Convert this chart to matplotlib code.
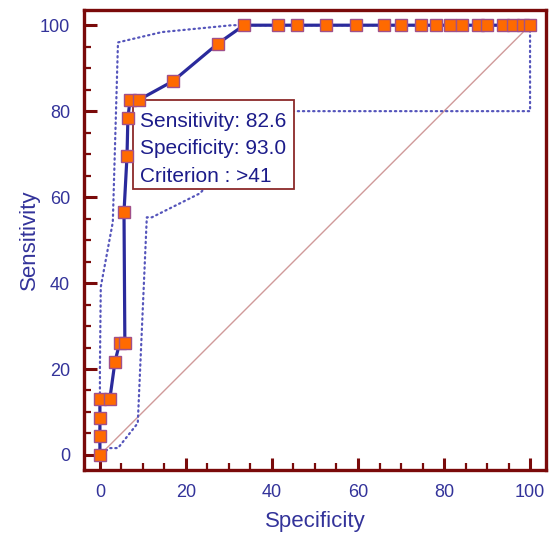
import matplotlib.pyplot as plt
from matplotlib.patches import Rectangle

plt.rcParams['font.family'] = ['Liberation Sans', 'DejaVu Sans']

# ROC curve (100 - specificity, sensitivity)
roc_x = [0, 0, 0, 0, 2.3, 3.5, 4.6, 5.8, 5.6, 6.3, 6.5, 7.0, 9.0, 17.0, 27.4, 33.5,
         41.5, 45.8, 52.6, 59.5, 66.0, 70.0, 74.7, 78.2, 81.3, 84.2, 87.9, 90.0,
         93.8, 96.0, 98.4, 100]
roc_y = [0, 4.3, 8.7, 13.0, 13.0, 21.7, 26.1, 26.1, 56.5, 69.6, 78.3, 82.6, 82.6,
         87.0, 95.7, 100, 100, 100, 100, 100, 100, 100, 100, 100, 100, 100, 100,
         100, 100, 100, 100, 100]

# confidence bounds
up_x = [0, 0, 0.2, 3.0, 4.2, 14.4, 30.7, 100]
up_y = [0, 20, 39.1, 54.2, 96.0, 98.4, 100, 100]
lo_x = [100, 100, 40, 23.3, 12.1, 10.9, 8.8, 4.2, 2.3, 0]
lo_y = [100, 80, 80, 60.9, 55.3, 55.3, 7.4, 1.6, 1.6, 0]

info = ['Sensitivity: 82.6', 'Specificity: 93.0', 'Criterion : >41']

spine_c = '#7a0a0a'
lab_c = '#33339a'

fig = plt.figure(figsize=(5.49, 5.35), dpi=100)
ax = fig.add_axes([0.153, 0.1215, 0.8415, 0.8595])

ax.plot([0, 100], [0, 100], color='#d09a9a', lw=1, zorder=1)
ax.plot(up_x, up_y, color='#5555bb', lw=1.6, ls=(0, (0.6, 1.7)),
        dash_capstyle='round', zorder=2)
ax.plot(lo_x, lo_y, color='#5555bb', lw=1.6, ls=(0, (0.6, 1.7)),
        dash_capstyle='round', zorder=2)

# info box
ax.add_patch(Rectangle((7.7, 61.9), 37.4, 20.7, facecolor='white',
                       edgecolor='#8b2a2a', lw=1.3, zorder=3))
for i, s in enumerate(info):
    ax.text(9.3, 77.7 - i * 6.4, s, color='#1c1c8a', fontsize=15,
            va='center', ha='left', zorder=4)

ax.plot(roc_x, roc_y, color='#2a2a9c', lw=2.3, marker='s', ms=9.2,
        mfc='#ff6a00', mec='#a0508a', mew=1, zorder=5)

ax.set_xlim(-3.7, 103.7)
ax.set_ylim(-3.5, 103.5)
ax.set_xticks(range(0, 101, 20))
ax.set_yticks(range(0, 101, 20))
ax.set_xticks(range(0, 101, 5), minor=True)
ax.set_yticks(range(0, 101, 5), minor=True)
ax.tick_params(which='major', direction='in', length=9, width=2.2,
               color=spine_c, labelcolor=lab_c, labelsize=13, pad=10)
ax.tick_params(which='minor', direction='in', length=5, width=1.6, color=spine_c)
for sp in ax.spines.values():
    sp.set_color(spine_c)
    sp.set_linewidth(2.4)

ax.set_xlabel('Specificity', color=lab_c, fontsize=16, labelpad=7)
ax.set_ylabel('Sensitivity', color=lab_c, fontsize=16, labelpad=0)

fig.savefig('out.png', dpi=100)
